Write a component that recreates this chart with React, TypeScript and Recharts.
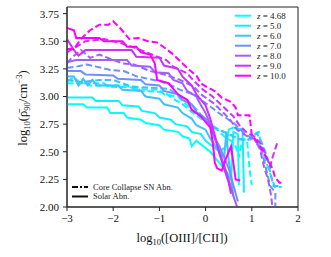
import React from 'react';
import { LineChart, Line, XAxis, YAxis, ReferenceArea } from 'recharts';

// redshift labels and colours (cool colormap)
const zLabels = ['4.68', '5.0', '6.0', '7.0', '8.0', '9.0', '10.0'];
const zColors = ['#00ffff', '#0ff0ff', '#3fc0ff', '#6f90ff', '#9f60ff', '#cf30ff', '#ff00ff'];

const xTicks = [-3, -2, -1, 0, 1, 2];
const yTicks = [2, 2.25, 2.5, 2.75, 3, 3.25, 3.5, 3.75];

type Pt = [number, number];

// Solar abundance runs: [log10(OIII/CII), log10(rho90)]
const solarZ468: Pt[] = [[-3, 2.93], [-2.65, 2.93], [-2.57, 2.9], [-2.13, 2.9], [-2.06, 2.85], [-1.77, 2.85], [-1.7, 2.81], [-1.4, 2.79], [-1.3, 2.76], [-1.0, 2.74], [-0.9, 2.7], [-0.6, 2.68], [-0.5, 2.64], [-0.35, 2.62], [-0.3, 2.55], [-0.2, 2.6], [-0.05, 2.55], [0.1, 2.5], [0.3, 2.4], [0.45, 2.32], [0.55, 2.25], [0.6, 2.68], [0.7, 2.66], [0.72, 2.2]];
const solarZ5: Pt[] = [[-3, 2.99], [-2.45, 2.99], [-2.38, 2.96], [-1.88, 2.96], [-1.8, 2.92], [-1.45, 2.91], [-1.38, 2.87], [-1.1, 2.85], [-1.0, 2.81], [-0.75, 2.79], [-0.65, 2.75], [-0.4, 2.73], [-0.3, 2.68], [-0.1, 2.66], [0.0, 2.6], [0.15, 2.55], [0.3, 2.5], [0.45, 2.55], [0.5, 2.7], [0.6, 2.72], [0.8, 2.7], [0.83, 2.13]];
const solarZ6: Pt[] = [[-3, 3.18], [-2.85, 3.18], [-2.75, 3.1], [-2.65, 3.16], [-2.55, 3.1], [-2.45, 3.15], [-2.35, 3.1], [-1.9, 3.1], [-1.8, 3.06], [-1.4, 3.05], [-1.3, 3.0], [-1.0, 2.98], [-0.9, 2.93], [-0.6, 2.9], [-0.5, 2.85], [-0.3, 2.8], [-0.2, 2.74], [0.0, 2.7], [0.1, 2.62], [0.3, 2.5], [0.4, 2.45], [0.45, 2.68], [0.5, 2.42], [0.55, 2.3], [0.6, 2.1]];
const solarZ7: Pt[] = [[-3, 3.23], [-2.7, 3.23], [-2.6, 3.2], [-2.0, 3.19], [-1.9, 3.16], [-1.4, 3.15], [-1.3, 3.11], [-1.0, 3.1], [-0.9, 3.05], [-0.6, 3.02], [-0.5, 2.97], [-0.3, 2.93], [-0.2, 2.86], [0.0, 2.8], [0.1, 2.72], [0.2, 2.62], [0.3, 2.55], [0.4, 2.45], [0.5, 2.35], [0.6, 2.2], [0.7, 2.05]];
const solarZ8: Pt[] = [[-3, 3.31], [-2.8, 3.33], [-1.7, 3.33], [-1.6, 3.28], [-1.2, 3.27], [-1.1, 3.22], [-0.8, 3.21], [-0.7, 3.15], [-0.5, 3.12], [-0.4, 3.05], [-0.2, 3.0], [-0.1, 2.92], [0.0, 2.85], [0.1, 2.75], [0.2, 2.62], [0.3, 2.5], [0.4, 2.38], [0.5, 2.25], [0.6, 2.1], [0.7, 1.98]];
const solarZ9: Pt[] = [[-3, 3.52], [-2.85, 3.42], [-2.75, 3.37], [-2.6, 3.42], [-1.6, 3.42], [-1.5, 3.36], [-1.0, 3.35], [-0.9, 3.28], [-0.6, 3.25], [-0.5, 3.18], [-0.3, 3.1], [-0.2, 3.02], [0.0, 2.92], [0.1, 2.8], [0.2, 2.65], [0.3, 2.48], [0.4, 2.35], [0.5, 2.22], [0.55, 2.12]];
const solarZ10: Pt[] = [[-3, 3.62], [-2.85, 3.6], [-2.8, 3.53], [-2.3, 3.53], [-2.2, 3.5], [-1.8, 3.5], [-1.7, 3.45], [-1.5, 3.45], [-1.4, 3.4], [-1.2, 3.38], [-1.1, 3.3], [-1.05, 3.15], [-0.8, 3.12], [-0.6, 3.02], [-0.4, 2.97], [-0.3, 2.88], [-0.1, 2.82], [0.0, 2.77], [0.1, 2.72], [0.15, 2.6], [0.2, 2.4], [0.25, 2.35], [0.35, 2.33], [0.45, 2.45], [0.55, 2.55], [0.6, 2.4], [0.65, 2.25], [0.75, 2.24]];

// Core collapse SN abundance runs
const ccsnZ468: Pt[] = [[-3, 3.12], [-2.6, 3.12], [-2.5, 3.1], [-1.7, 3.1], [-1.6, 3.07], [-1.0, 3.06], [-0.9, 3.02], [-0.6, 3.0], [-0.45, 2.94], [-0.3, 2.88], [-0.15, 2.82], [0.05, 2.76], [0.25, 2.7], [0.4, 2.64], [0.55, 2.6], [0.65, 2.55], [0.72, 2.45], [0.8, 2.62], [0.9, 2.6], [0.95, 2.35], [1.0, 2.2]];
const ccsnZ5: Pt[] = [[-3, 3.14], [-2.85, 3.17], [-2.7, 3.12], [-2.2, 3.12], [-2.1, 3.09], [-1.5, 3.08], [-1.4, 3.05], [-0.9, 3.04], [-0.7, 2.98], [-0.5, 2.93], [-0.3, 2.86], [-0.1, 2.8], [0.1, 2.74], [0.3, 2.7], [0.5, 2.66], [0.7, 2.62], [0.9, 2.6], [1.05, 2.66], [1.15, 2.68], [1.22, 2.52], [1.3, 2.42], [1.4, 2.3], [1.5, 2.18], [1.65, 2.18]];
const ccsnZ6: Pt[] = [[-3, 3.15], [-2.7, 3.13], [-2.3, 3.15], [-2.0, 3.15], [-1.6, 3.09], [-1.2, 3.08], [-0.8, 3.07], [-0.55, 3.0], [-0.4, 2.97], [-0.26, 2.91], [-0.11, 2.84], [0.1, 2.76], [0.25, 2.7], [0.46, 2.67], [0.6, 2.64], [0.75, 2.61], [0.97, 2.61], [1.11, 2.67], [1.22, 2.58], [1.33, 2.46], [1.4, 2.31], [1.47, 2.19], [1.62, 2.19]];
const ccsnZ7: Pt[] = [[-3, 3.26], [-2.8, 3.27], [-2.57, 3.29], [-2.06, 3.24], [-1.77, 3.23], [-1.48, 3.18], [-1.12, 3.15], [-0.84, 3.12], [-0.55, 3.06], [-0.26, 3.02], [-0.1, 2.97], [0.1, 2.91], [0.32, 2.84], [0.61, 2.76], [0.83, 2.67], [1.04, 2.61], [1.18, 2.55], [1.26, 2.43], [1.33, 2.31], [1.4, 2.19], [1.51, 2.13], [1.51, 1.98]];
const ccsnZ8: Pt[] = [[-3, 3.3], [-2.9, 3.35], [-2.7, 3.42], [-2.5, 3.35], [-2.3, 3.38], [-2.0, 3.33], [-1.8, 3.3], [-1.55, 3.29], [-1.2, 3.23], [-0.9, 3.2], [-0.55, 3.15], [-0.26, 3.09], [-0.1, 3.02], [0.17, 2.94], [0.39, 2.85], [0.53, 2.79], [0.68, 2.7], [0.9, 2.64], [1.05, 2.62], [1.18, 2.52], [1.26, 2.37], [1.35, 2.25], [1.42, 2.1], [1.45, 1.98]];
const ccsnZ9: Pt[] = [[-3, 3.4], [-2.8, 3.45], [-2.6, 3.5], [-2.2, 3.52], [-2.0, 3.5], [-1.8, 3.48], [-1.4, 3.42], [-1.1, 3.37], [-0.85, 3.33], [-0.7, 3.27], [-0.4, 3.21], [-0.25, 3.14], [-0.05, 3.06], [0.15, 3.0], [0.3, 2.94], [0.45, 2.88], [0.6, 2.82], [0.75, 2.73], [0.9, 2.67], [1.05, 2.64], [1.2, 2.57], [1.3, 2.47], [1.4, 2.37], [1.45, 2.45], [1.55, 2.58]];
const ccsnZ10: Pt[] = [[-3, 3.43], [-2.85, 3.43], [-2.7, 3.52], [-2.5, 3.6], [-2.3, 3.65], [-2.1, 3.65], [-2.0, 3.68], [-1.85, 3.62], [-1.65, 3.52], [-1.45, 3.53], [-1.25, 3.5], [-1.05, 3.49], [-0.85, 3.43], [-0.7, 3.38], [-0.5, 3.3], [-0.35, 3.24], [-0.2, 3.19], [-0.1, 3.12], [0.05, 3.08], [0.2, 3.05], [0.35, 2.99], [0.55, 2.95], [0.65, 2.9], [0.7, 2.83], [0.95, 2.83], [1.0, 2.65], [1.1, 2.6], [1.25, 2.5], [1.35, 2.42], [1.45, 2.35], [1.5, 2.27], [1.6, 2.22], [1.7, 2.22]];

const solarSeries = [solarZ468, solarZ5, solarZ6, solarZ7, solarZ8, solarZ9, solarZ10];
const ccsnSeries = [ccsnZ468, ccsnZ5, ccsnZ6, ccsnZ7, ccsnZ8, ccsnZ9, ccsnZ10];

const toRows = (pts: Pt[]) => pts.map(([x, y]) => ({ x, y }));

const FONT = '"Liberation Serif", "DejaVu Serif", serif';
const fmtX = (v: number) => (v < 0 ? `\u2212${Math.abs(v)}` : `${v}`);
const fmtY = (v: number) => v.toFixed(2);

const App: React.FC = () => {
  return (
    <div style={{ position: 'absolute', left: 0, top: 0, width: 331, height: 257, background: '#fff' }}>
      <LineChart width={331} height={257} margin={{ top: 7, right: 33, bottom: 0, left: 0 }}>
        <XAxis
          type="number"
          dataKey="x"
          domain={[-3, 2]}
          ticks={xTicks}
          allowDataOverflow
          tickFormatter={fmtX}
          height={50}
          tickSize={4}
          tickMargin={3}
          stroke="#222"
          tick={{ fill: '#111', fontSize: 11, fontFamily: FONT }}
        />
        <YAxis
          type="number"
          dataKey="y"
          domain={[2, 3.81]}
          ticks={yTicks}
          allowDataOverflow
          tickFormatter={fmtY}
          width={67}
          tickSize={4}
          tickMargin={4}
          stroke="#222"
          tick={{ fill: '#111', fontSize: 11, fontFamily: FONT }}
        />
        <ReferenceArea x1={-3} x2={2} y1={2} y2={3.81} fill="none" stroke="#222" strokeWidth={1} ifOverflow="visible" />
        {zLabels.map((z, i) => [
          <Line
            key={`cc-${z}`}
            data={toRows(ccsnSeries[i])}
            dataKey="y"
            type="linear"
            stroke={zColors[i]}
            strokeWidth={2}
            strokeDasharray="6.5 3"
            dot={false}
            isAnimationActive={false}
          />,
          <Line
            key={`sol-${z}`}
            data={toRows(solarSeries[i])}
            dataKey="y"
            type="linear"
            stroke={zColors[i]}
            strokeWidth={2}
            dot={false}
            isAnimationActive={false}
          />,
        ])}
      </LineChart>
      <svg width={331} height={257} style={{ position: 'absolute', left: 0, top: 0, pointerEvents: 'none' }}>
        {/* redshift legend */}
        {zLabels.map((z, i) => (
          <g key={z}>
            <line x1={235} x2={251} y1={15.7 + i * 10} y2={15.7 + i * 10} stroke={zColors[i]} strokeWidth={2} />
            <text x={257} y={15.7 + i * 10} dy="0.33em" fontSize={9} fontFamily={FONT} fill="#222">
              <tspan fontStyle="italic">z</tspan> = {z}
            </text>
          </g>
        ))}
        {/* abundance legend */}
        <line x1={72} x2={88} y1={187} y2={187} stroke="#111" strokeWidth={2} strokeDasharray="6 2 2 2" />
        <text x={93} y={187} dy="0.33em" fontSize={8.5} fontFamily={FONT} fill="#222">Core Collapse SN Abn.</text>
        <line x1={72} x2={88} y1={196.5} y2={196.5} stroke="#111" strokeWidth={2} />
        <text x={93} y={196.5} dy="0.33em" fontSize={8.5} fontFamily={FONT} fill="#222">Solar Abn.</text>
        {/* axis titles */}
        <text x={182} y={242} textAnchor="middle" fontSize={12.5} fontFamily={FONT} fill="#111">
          log<tspan fontSize={8.5} dy={3}>10</tspan>
          <tspan dy={-3}>([OIII]/[CII])</tspan>
        </text>
        <text transform="translate(27,108) rotate(-90)" textAnchor="middle" fontSize={12.5} fontFamily={FONT} fill="#111">
          log<tspan fontSize={8.5} dy={3}>10</tspan>
          <tspan dy={-3}>(ρ̄</tspan>
          <tspan fontSize={8.5} dy={3}>90</tspan>
          <tspan dy={-3}>/cm</tspan>
          <tspan fontSize={8.5} dy={-5}>−3</tspan>
          <tspan dy={5}>)</tspan>
        </text>
      </svg>
    </div>
  );
};

export default App;
